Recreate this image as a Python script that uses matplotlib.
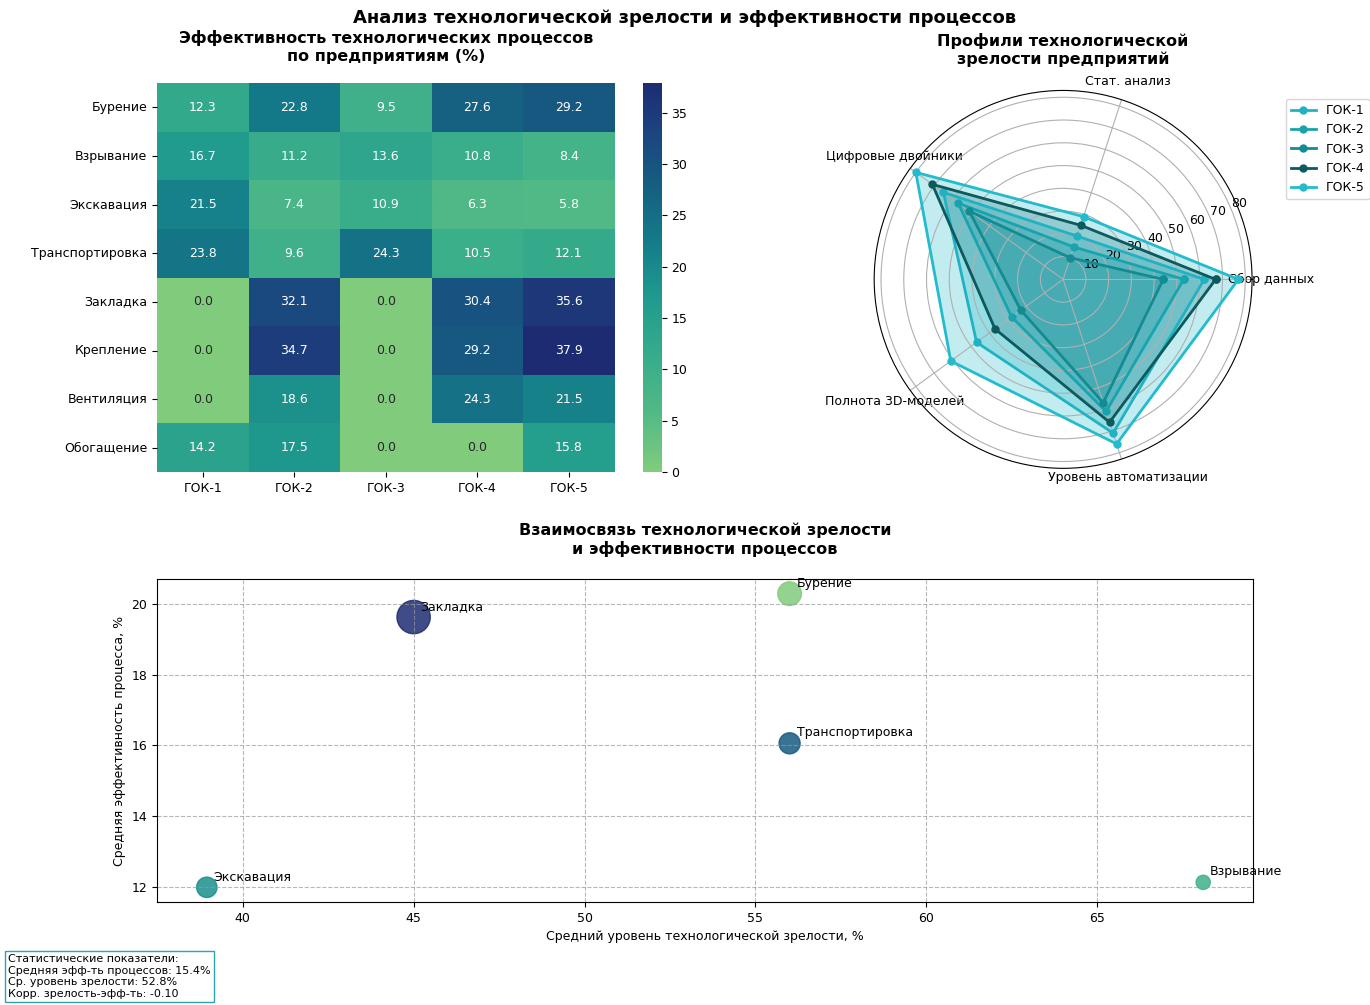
import matplotlib
matplotlib.use('Agg')
import matplotlib.pyplot as plt
from matplotlib.colors import LinearSegmentedColormap
import numpy as np
import seaborn as sns

plt.rcParams['font.family'] = ['DejaVu Sans']

# heatmap data
processes = ['Бурение', 'Взрывание', 'Экскавация', 'Транспортировка',
             'Закладка', 'Крепление', 'Вентиляция', 'Обогащение']
plants = ['ГОК-1', 'ГОК-2', 'ГОК-3', 'ГОК-4', 'ГОК-5']
eff = [
    [12.3, 22.8, 9.5, 27.6, 29.2],
    [16.7, 11.2, 13.6, 10.8, 8.4],
    [21.5, 7.4, 10.9, 6.3, 5.8],
    [23.8, 9.6, 24.3, 10.5, 12.1],
    [0.0, 32.1, 0.0, 30.4, 35.6],
    [0.0, 34.7, 0.0, 29.2, 37.9],
    [0.0, 18.6, 0.0, 24.3, 21.5],
    [14.2, 17.5, 0.0, 0.0, 15.8],
]

# radar data
criteria = ['Сбор данных', 'Стат. анализ', 'Цифровые двойники',
            'Полнота 3D-моделей', 'Уровень автоматизации']
maturity = {
    'ГОК-1': [62, 20, 65, 47, 71],
    'ГОК-2': [53, 15, 57, 28, 61],
    'ГОК-3': [44, 10, 51, 23, 57],
    'ГОК-4': [67, 25, 71, 37, 66],
    'ГОК-5': [77, 29, 80, 61, 76],
}
plant_colors = ['#20b2c2', '#19a4ad', '#138b92', '#0b5a5e', '#22bccc']

# scatter data
sc_names = ['Бурение', 'Взрывание', 'Экскавация', 'Транспортировка', 'Закладка']
sc_maturity = [56.0, 68.1, 38.95, 56.0, 45.0]
sc_eff = [20.28, 12.14, 12.0, 16.06, 19.62]
sc_size = [290, 105, 215, 230, 575]

stats_text = ('Статистические показатели:\n'
              'Средняя эфф-ть процессов: 15.4%\n'
              'Ср. уровень зрелости: 52.8%\n'
              'Корр. зрелость-эфф-ть: -0.10')

# crest-like map, a bit more saturated
cmap = LinearSegmentedColormap.from_list('crest2', [
    (0.00, '#80cc7c'), (0.15, '#52b985'), (0.28, '#3aae8a'), (0.45, '#1f9a8e'),
    (0.60, '#137a88'), (0.75, '#165c80'), (0.88, '#1c4380'), (1.00, '#1d2c72')])

fig = plt.figure(figsize=(13.7, 10.05), dpi=100)
fig.text(0.5, 0.982, 'Анализ технологической зрелости и эффективности процессов',
         ha='center', va='center', fontsize=13, fontweight='bold')

# --- heatmap
ax1 = fig.add_axes([0.1146, 0.5303, 0.334, 0.387])
cax = fig.add_axes([0.469, 0.5303, 0.0139, 0.387])
sns.heatmap(np.array(eff), ax=ax1, cbar_ax=cax, cmap=cmap, annot=True, fmt='.1f',
            annot_kws={'fontsize': 9}, xticklabels=plants, yticklabels=processes)
ax1.set_title('Эффективность технологических процессов\nпо предприятиям (%)',
              fontsize=11.5, fontweight='bold', pad=16)
ax1.tick_params(labelsize=9)
ax1.set_yticklabels(processes, rotation=0)
ax1.set_xticklabels(plants, rotation=0)
cax.tick_params(labelsize=9)

# --- radar
ax2 = fig.add_axes([0.638, 0.534, 0.276, 0.376], projection='polar')
angles = np.linspace(0, 2 * np.pi, len(criteria), endpoint=False).tolist()
angles += angles[:1]
for (name, vals), col in zip(maturity.items(), plant_colors):
    v = vals + vals[:1]
    ax2.plot(angles, v, 'o-', color=col, linewidth=2, markersize=5, label=name)
    ax2.fill(angles, v, color=col, alpha=0.27)
ax2.set_xticks(angles[:-1])
ax2.set_xticklabels(criteria, fontsize=9)
ax2.set_yticks([10, 20, 30, 40, 50, 60, 70, 80])
ax2.set_yticklabels(['10', '20', '30', '40', '50', '60', '70', '80'], fontsize=9)
ax2.set_ylim(0, 83)
ax2.set_title('Профили технологической\nзрелости предприятий',
              fontsize=11.5, fontweight='bold', pad=19)
ax2.legend(loc='upper left', bbox_to_anchor=(0.934, 0.9075),
           bbox_transform=fig.transFigure, fontsize=9)

# --- scatter
ax3 = fig.add_axes([0.1146, 0.1025, 0.8, 0.3214])
ax3.scatter(sc_maturity, sc_eff, s=sc_size, c=range(len(sc_names)), cmap=cmap, alpha=0.85)
for n, x, y in zip(sc_names, sc_maturity, sc_eff):
    ax3.annotate(n, (x, y), xytext=(5, 5), textcoords='offset points', fontsize=9)
ax3.set_xlabel('Средний уровень технологической зрелости, %', fontsize=9)
ax3.set_ylabel('Средняя эффективность процесса, %', fontsize=9)
ax3.set_title('Взаимосвязь технологической зрелости\nи эффективности процессов',
              fontsize=11.5, fontweight='bold', pad=18)
ax3.grid(True, linestyle='--', color='#999999', alpha=0.7)
ax3.tick_params(labelsize=9)

fig.text(0.006, 0.006, stats_text, ha='left', va='bottom', fontsize=8,
         bbox=dict(boxstyle='square,pad=0.3', facecolor='white', edgecolor='#2aa3b3'))

fig.savefig('out.png', dpi=100)
